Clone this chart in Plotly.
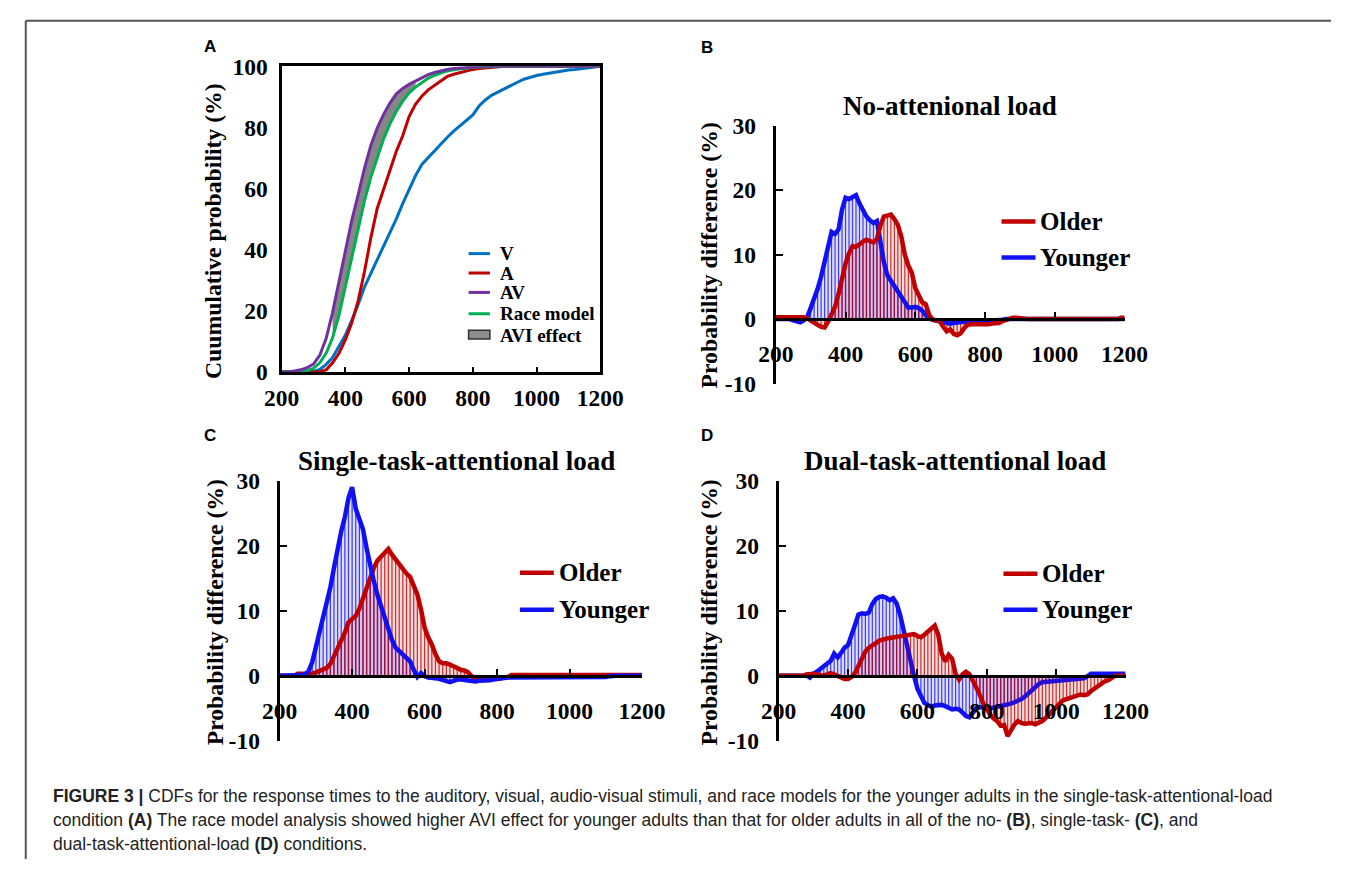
import plotly.graph_objects as go

W, H = 1355, 872


def fx(p):
    return p / W


def fy(p):
    return 1 - p / H


SERIF = "Times New Roman, Liberation Serif, serif"
SANS = "Arial, Liberation Sans, Helvetica, sans-serif"

# ---------------- Panel A: cumulative distributions (20 ms steps) ----------------
t_cdf = list(range(200, 1201, 20))
cdf_v = [0, 0, 0, 0, 0, 0.2, 0.8, 2.5, 4.7, 8.3,
         12.0, 16.9, 22.0, 27.8, 32.3, 36.5, 40.8, 45.3, 50.1, 55.1,
         59.4, 64.2, 67.9, 70.2, 72.4, 74.8, 76.8, 78.8, 80.6, 82.3,
         84.1, 87.1, 89.1, 90.6, 91.7, 92.8, 93.8, 94.8, 95.8, 96.5,
         97.0, 97.4, 97.8, 98.1, 98.5, 98.8, 99.0, 99.2, 99.5, 99.7, 100]
cdf_a = [0, 0, 0, 0, 0, 0, 0.1, 0.7, 3.0, 6.1,
         10.5, 16.0, 23.2, 32.8, 43.9, 53.5, 59.8, 65.9, 72.2, 77.3,
         83.6, 87.6, 90.2, 92.3, 93.8, 95.2, 96.7, 97.4, 98.0, 98.6,
         99.0, 99.3, 99.5, 99.7, 99.9, 100, 100, 100, 100, 100,
         100, 100, 100, 100, 100, 100, 100, 100, 100, 100, 100]
cdf_av = [0, 0, 0.3, 0.7, 1.4, 2.6, 5.5, 11.0, 19.5, 29.5,
          39.6, 49.5, 57.9, 66.6, 74.1, 79.8, 84.3, 88.0, 91.0, 92.8,
          94.1, 95.2, 96.4, 97.3, 98.0, 98.6, 99.0, 99.3, 99.5, 99.7,
          99.8, 99.9, 100, 100, 100, 100, 100, 100, 100, 100,
          100, 100, 100, 100, 100, 100, 100, 100, 100, 100, 100]
cdf_race = [0, 0, 0, 0.2, 0.4, 1.2, 3.0, 6.2, 11.2, 18.4,
            27.9, 37.5, 46.4, 56.0, 63.7, 70.4, 76.3, 81.2, 85.3, 88.6,
            91.3, 93.2, 94.6, 96.1, 97.1, 97.9, 98.5, 98.9, 99.2, 99.5,
            99.7, 99.8, 99.9, 100, 100, 100, 100, 100, 100, 100,
            100, 100, 100, 100, 100, 100, 100, 100, 100, 100, 100]
avi_window = (360, 620)

# ---------------- Panels B-D: AV minus race model (10 ms steps) ----------------
t_diff = list(range(200, 1201, 10))

no_load_young = [0, 0, 0, 0, 0, -0.2, -0.4, -0.5, -0.2, 0.3,
                 1.7, 3.0, 4.7, 6.6, 8.8, 11.5, 13.5, 13.2, 13.9, 17.0,
                 18.8, 18.6, 19.0, 19.2, 17.9, 16.7, 15.9, 15.3, 14.9, 15.2,
                 11.5, 8.8, 6.8, 6.0, 5.3, 4.5, 3.6, 2.8, 1.8, 1.8,
                 1.9, 1.7, 1.3, 0.6, 0.1, -0.1, -0.2, -0.3, -0.5, -0.6,
                 -0.7, -0.6, -0.5, -0.5, -0.4, -0.4, -0.4, -0.3, -0.3, -0.3,
                 -0.3, -0.3, -0.2, -0.2, -0.2, -0.1, 0, 0, 0, 0,
                 0, 0, 0, 0, 0, 0, 0, 0, 0, 0,
                 0, 0, 0, 0, 0, 0, 0, 0, 0, 0,
                 0, 0, 0, 0, 0, 0, 0, 0, 0, 0,
                 0]
no_load_old = [0.3, 0.3, 0.3, 0.3, 0.3, 0.3, 0.3, 0.3, 0.3, 0.1,
               -0.3, -0.6, -0.9, -1.2, -1.3, -0.4, 0.6, 1.9, 3.9, 6.6,
               8.6, 10.2, 11.3, 11.2, 11.7, 12.0, 12.3, 12.1, 11.9, 12.4,
               14.5, 15.9, 16.1, 16.2, 15.5, 14.6, 12.8, 10.0, 8.3, 7.2,
               4.8, 3.5, 2.6, 2.3, 0.6, -0.1, -0.2, -0.3, -1.2, -1.9,
               -1.6, -2.3, -2.5, -2.2, -1.4, -0.9, -0.8, -0.8, -0.9, -0.8,
               -0.8, -0.8, -0.7, -0.7, -0.6, -0.3, -0.1, 0.1, 0.2, 0.2,
               0.1, 0, 0, 0, 0, 0, 0, 0, 0, 0,
               0, 0, 0, 0, 0, 0, 0, 0, 0, 0,
               0, 0, 0, 0, 0, 0, 0, 0, 0, 0.2,
               0.2]
single_young = [0, 0, 0, 0, 0, 0.1, 0.1, 0.2, 0.7, 2.1,
                4.3, 6.6, 9.2, 11.0, 13.6, 16.6, 19.9, 22.2, 24.4, 27.3,
                29.0, 25.7, 24.1, 22.5, 19.6, 16.9, 14.5, 12.4, 10.6, 9.0,
                7.2, 5.5, 4.3, 3.8, 3.3, 2.9, 2.2, 0.9, -0.2, 0.4,
                -0.1, -0.3, -0.3, -0.4, -0.5, -0.7, -0.9, -1.0, -0.8, -0.6,
                -0.6, -0.7, -0.8, -0.9, -0.9, -0.8, -0.8, -0.8, -0.7, -0.6,
                -0.5, -0.4, -0.4, -0.3, -0.3, -0.3, -0.3, -0.3, -0.3, -0.3,
                -0.3, -0.3, -0.2, -0.2, -0.2, -0.2, -0.2, -0.2, -0.2, -0.2,
                -0.2, -0.2, -0.2, -0.2, -0.2, -0.2, -0.2, -0.2, -0.2, -0.2,
                -0.2, -0.1, 0, 0, 0, 0, 0, 0, 0, 0,
                0]
single_old = [0, 0, 0, 0, 0, 0.3, 0.3, 0.3, 0.3, 0.3,
              0.5, 0.7, 0.9, 1.2, 1.8, 3.0, 4.0, 5.1, 6.6, 8.2,
              8.6, 9.2, 10.3, 11.9, 13.4, 15.3, 16.6, 17.7, 18.3, 18.9,
              19.5, 18.6, 17.8, 17.0, 16.5, 15.7, 15.2, 14.0, 12.5, 10.2,
              7.4, 5.9, 4.8, 3.3, 2.2, 1.9, 1.9, 1.7, 1.4, 1.1,
              0.9, 0.8, 0.5, -0.1, -0.3, -0.5, -0.5, -0.5, -0.5, -0.5,
              -0.4, -0.4, -0.3, -0.2, 0.1, 0.1, 0.1, 0.1, 0.1, 0.1,
              0.1, 0.1, 0.1, 0.1, 0.1, 0.1, 0.1, 0.1, 0.1, 0.1,
              0.1, 0.1, 0.1, 0.1, 0.1, 0.1, 0.1, 0.1, 0.1, 0.1,
              0.1, 0.1, 0.1, 0.1, 0.1, 0.1, 0.1, 0.1, 0.1, 0.1,
              0.1]
dual_young = [0, 0, 0, 0, 0, 0, 0, 0, 0, -0.3,
              0.3, 0.6, 1.0, 1.4, 1.7, 2.3, 3.4, 2.8, 3.5, 4.3,
              4.7, 6.1, 7.8, 9.4, 9.6, 9.5, 9.7, 11.0, 11.8, 12.1,
              12.2, 12.0, 11.6, 11.9, 11.1, 9.4, 7.0, 4.1, 1.9, 0.0,
              -2.0, -3.3, -4.2, -4.5, -4.8, -4.6, -4.5, -4.5, -4.7, -5.0,
              -5.2, -5.1, -5.2, -5.7, -6.2, -6.4, -5.8, -5.0, -4.9, -4.8,
              -4.9, -5.0, -4.9, -4.8, -4.7, -4.6, -4.4, -4.3, -4.1, -3.9,
              -3.6, -3.2, -2.7, -2.1, -1.6, -1.3, -1.0, -0.95, -0.9, -0.9,
              -0.85, -0.8, -0.75, -0.7, -0.65, -0.6, -0.55, -0.5, -0.4, -0.1,
              0.3, 0.3, 0.3, 0.3, 0.3, 0.3, 0.3, 0.3, 0.3, 0.3,
              0.3]
dual_old = [0, 0, 0, 0, 0, 0, 0, 0, 0.2, 0.3,
            0.3, 0.2, 0.1, 0.0, 0.2, 0.4, 0.2, 0.0, -0.2, -0.5,
            -0.5, -0.2, 0.4, 1.4, 2.7, 3.7, 4.3, 4.6, 5.0, 5.4,
            5.6, 5.7, 5.8, 5.9, 6.0, 6.1, 6.2, 6.3, 6.3, 6.4,
            6.1, 5.9, 6.3, 6.8, 7.3, 7.7, 6.3, 3.4, 2.2, 3.2,
            2.6, 0.3, -0.6, 0.2, 0.6, 0.2, -0.8, -1.8, -3.0, -4.3,
            -5.2, -6.0, -6.6, -7.0, -7.7, -7.6, -9.3, -8.4, -7.5, -7.0,
            -7.3, -7.4, -7.3, -7.3, -7.5, -7.3, -7.0, -6.5, -5.9, -5.3,
            -4.8, -4.3, -3.8, -3.6, -3.4, -3.2, -3.0, -2.9, -3.0, -2.9,
            -2.4, -2.0, -1.6, -1.2, -0.9, -0.7, -0.4, 0, 0, 0,
            0]

x_ticks = [200, 400, 600, 800, 1000, 1200]
cdf_ticks = [0, 20, 40, 60, 80, 100]
diff_ticks = [-10, 0, 10, 20, 30]
diff_tick_labels = ["-10", "0", "10", "20", "30"]

C_V, C_A, C_AV, C_RACE = "#0070C0", "#C00000", "#7030A0", "#00B050"
C_OLD, C_YOUNG = "#C00000", "#1010F5"

fig = go.Figure()

# ---- Panel A ----
win = [i for i, t in enumerate(t_cdf) if avi_window[0] <= t <= avi_window[1]]
fig.add_trace(go.Scatter(x=[t_cdf[i] for i in win], y=[cdf_race[i] for i in win],
                         mode="lines", line=dict(width=0, color="rgba(0,0,0,0)"),
                         xaxis="x", yaxis="y", hoverinfo="skip"))
fig.add_trace(go.Scatter(x=[t_cdf[i] for i in win], y=[cdf_av[i] for i in win],
                         mode="lines", line=dict(width=0, color="rgba(0,0,0,0)"),
                         fill="tonexty", fillcolor="rgba(128,128,128,0.95)",
                         xaxis="x", yaxis="y", hoverinfo="skip"))
for ys, col in [(cdf_v, C_V), (cdf_a, C_A), (cdf_race, C_RACE), (cdf_av, C_AV)]:
    fig.add_trace(go.Scatter(x=t_cdf, y=ys, mode="lines",
                             line=dict(color=col, width=3), xaxis="x", yaxis="y"))


def rgba(hex_col, a):
    h = hex_col.lstrip("#")
    r, g, b = int(h[0:2], 16), int(h[2:4], 16), int(h[4:6], 16)
    return f"rgba({r},{g},{b},{a})"


def shaded(ys, col, xa, ya):
    fig.add_trace(go.Scatter(x=t_diff, y=ys, mode="lines", line=dict(width=0),
                             fill="tozeroy", fillcolor=rgba(col, 0.13),
                             xaxis=xa, yaxis=ya, hoverinfo="skip"))
    fig.add_trace(go.Bar(x=t_diff, y=ys, width=3.5, marker=dict(color=rgba(col, 0.78), line=dict(width=0)),
                         xaxis=xa, yaxis=ya, hoverinfo="skip"))


def curve(ys, col, xa, ya):
    fig.add_trace(go.Scatter(x=t_diff, y=ys, mode="lines", line=dict(color=col, width=4.5),
                             xaxis=xa, yaxis=ya))


# ---- Panel B ----
shaded(no_load_young, C_YOUNG, "x2", "y2")
shaded(no_load_old, C_OLD, "x2", "y2")
curve(no_load_young, C_YOUNG, "x2", "y2")
curve(no_load_old, C_OLD, "x2", "y2")
# ---- Panel C ----
shaded(single_young, C_YOUNG, "x3", "y3")
shaded(single_old, C_OLD, "x3", "y3")
curve(single_old, C_OLD, "x3", "y3")
curve(single_young, C_YOUNG, "x3", "y3")
# ---- Panel D ----
shaded(dual_young, C_YOUNG, "x4", "y4")
curve(dual_young, C_YOUNG, "x4", "y4")
shaded(dual_old, C_OLD, "x4", "y4")
curve(dual_old, C_OLD, "x4", "y4")

tick_font = dict(family=SERIF, size=23.5, color="black", weight="bold")

layout = dict(
    width=W, height=H, margin=dict(l=0, r=0, t=0, b=0),
    paper_bgcolor="white", plot_bgcolor="rgba(0,0,0,0)",
    showlegend=False, barmode="overlay",
    xaxis=dict(domain=[fx(272), fx(601)], range=[200, 1200], tickvals=x_ticks,
               ticks="inside", ticklen=5, tickwidth=2, tickcolor="black",
               showline=True, linewidth=3, linecolor="black", mirror=True,
               showgrid=False, zeroline=False, tickfont=tick_font,
               ticklabelstandoff=3, anchor="y"),
    yaxis=dict(domain=[fy(370), fy(55)], range=[0, 100], tickvals=cdf_ticks,
               ticks="", showline=True, linewidth=3, linecolor="black", mirror=True,
               showgrid=False, zeroline=False, tickfont=tick_font,
               ticklabelstandoff=6, anchor="x"),
)

panels = {
    "2": dict(x0=782, x1=1142, ytop=116, ybot=382),
    "3": dict(x0=270, x1=644, ytop=482, ybot=750),
    "4": dict(x0=785, x1=1143, ytop=482, ybot=750),
}
for k, p in panels.items():
    zero_px = p["ybot"] - (p["ybot"] - p["ytop"]) * 10 / 40
    layout["xaxis" + k] = dict(domain=[fx(p["x0"]), fx(p["x1"])], range=[200, 1200],
                               tickvals=x_ticks, ticks="inside", ticklen=6, tickwidth=2,
                               tickcolor="black", showline=True, linewidth=3, linecolor="black",
                               showgrid=False, zeroline=False, tickfont=tick_font,
                               ticklabelstandoff=13, anchor="free", position=fy(zero_px))
    layout["yaxis" + k] = dict(domain=[fy(p["ybot"]), fy(p["ytop"])], range=[-10, 30],
                               tickvals=diff_ticks, ticktext=diff_tick_labels,
                               ticks="inside", ticklen=7, tickwidth=2,
                               tickcolor="black", showline=True, linewidth=3, linecolor="black",
                               showgrid=False, zeroline=False, tickfont=tick_font,
                               ticklabelstandoff=12, anchor="x" + k)

fig.update_layout(**layout)

ann = []
shapes = []


def text(x, y, s, size, family=SERIF, anchor="center", angle=0, color="black"):
    ann.append(dict(x=fx(x), y=fy(y), xref="paper", yref="paper", text=s, showarrow=False,
                    xanchor=anchor, yanchor="middle", textangle=angle,
                    font=dict(family=family, size=size, color=color)))


# panel letters
for lab, (x, y) in {"A": (198, 35), "B": (711, 36), "C": (198, 435), "D": (711, 435)}.items():
    text(x, y, f"<b>{lab}</b>", 17, family=SANS)

# panel titles
text(962, 96, "<b>No-attenional load</b>", 27)
text(453, 462, "<b>Single-task-attentional load</b>", 27)
text(967, 462, "<b>Dual-task-attentional load</b>", 27)

# y-axis titles
text(202, 225, "<b>Cuumulative probability (%)</b>", 23.7, angle=-90)
text(713, 250, "<b>Probability difference (%)</b>", 23.7, angle=-90)
text(203, 618, "<b>Probability difference (%)</b>", 23.7, angle=-90)
text(713, 618, "<b>Probability difference (%)</b>", 23.7, angle=-90)

# panel A legend
legend_a = [("V", C_V, 248), ("A", C_A, 268), ("AV", C_AV, 288), ("Race model", C_RACE, 310)]
for name, col, y in legend_a:
    shapes.append(dict(type="line", xref="paper", yref="paper", x0=fx(465), x1=fx(487),
                       y0=fy(y), y1=fy(y), line=dict(color=col, width=3)))
    text(495, y, f"<b>{name}</b>", 19, anchor="left")
shapes.append(dict(type="rect", xref="paper", yref="paper", x0=fx(465), x1=fx(487),
                   y0=fy(336), y1=fy(327), fillcolor="#8c8c8c", line=dict(color="#303030", width=1.5)))
text(495, 332, "<b>AVI effect</b>", 19, anchor="left")

# group legends for panels B-D
for lx0, lx1, y_old, y_young in [(1015, 1050, 215, 252), (518, 553, 577, 615), (1017, 1052, 578, 615)]:
    for name, col, y in [("Older", C_OLD, y_old), ("Younger", C_YOUNG, y_young)]:
        shapes.append(dict(type="line", xref="paper", yref="paper", x0=fx(lx0), x1=fx(lx1),
                           y0=fy(y), y1=fy(y), line=dict(color=col, width=4.5)))
        text(lx1 + 3, y, f"<b>{name}</b>", 25, anchor="left")

# figure frame
shapes.append(dict(type="line", xref="paper", yref="paper", x0=fx(8), x1=1, y0=fy(8), y1=fy(8),
                   line=dict(color="#555555", width=2)))
shapes.append(dict(type="line", xref="paper", yref="paper", x0=fx(8), x1=fx(8), y0=0, y1=fy(8),
                   line=dict(color="#555555", width=2)))

# caption
caption = [
    "<b>FIGURE 3 |</b> CDFs for the response times to the auditory, visual, audio-visual stimuli, "
    "and race models for the younger adults in the single-task-attentional-load",
    "condition <b>(A)</b> The race model analysis showed higher AVI effect for younger adults than "
    "that for older adults in all of the no- <b>(B)</b>, single-task- <b>(C)</b>, and",
    "dual-task-attentional-load <b>(D)</b> conditions.",
]
for i, line in enumerate(caption):
    text(34, 807 + i * 25, line, 17.5, family=SANS, anchor="left", color="#222222")

fig.update_layout(annotations=ann, shapes=shapes)
fig.write_html("out.html")
